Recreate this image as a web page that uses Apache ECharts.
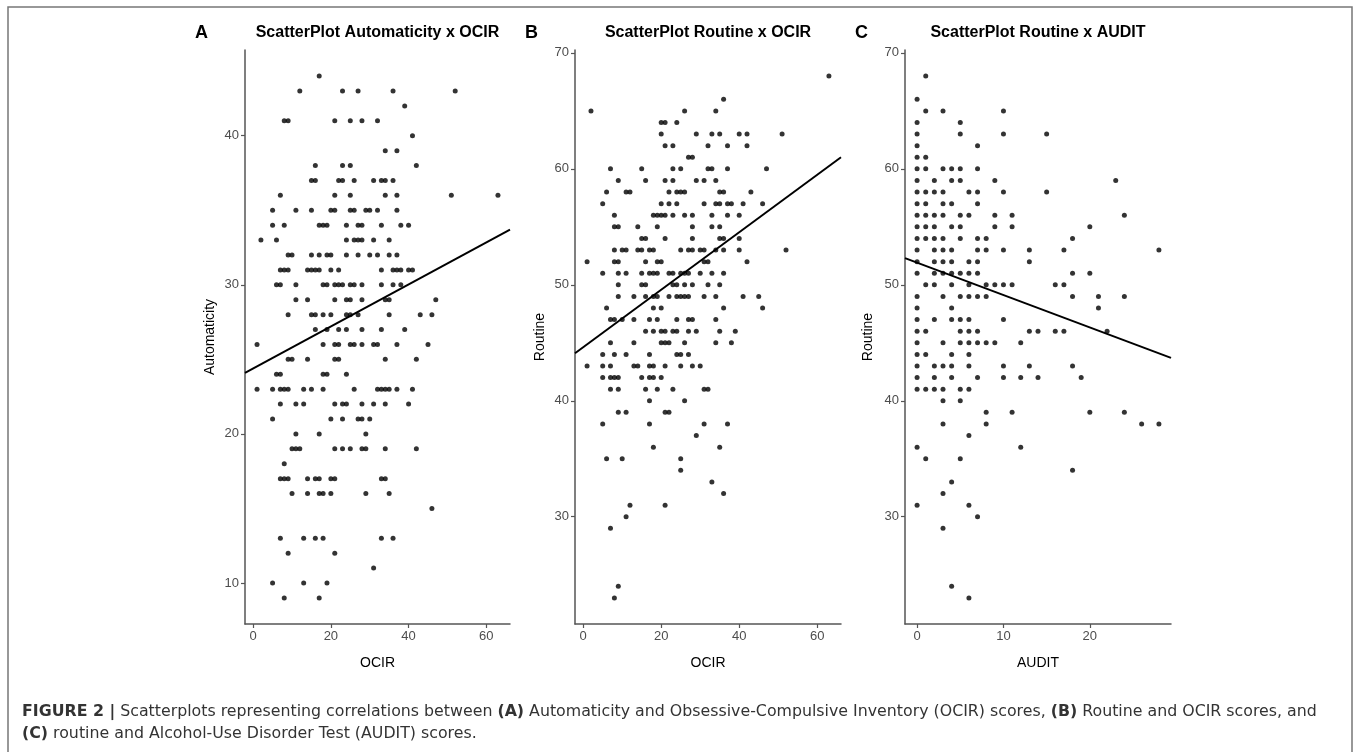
<!DOCTYPE html>
<html>
<head>
<meta charset="utf-8">
<script src="https://cdn.jsdelivr.net/npm/echarts@6/dist/echarts.min.js"></script>
<style>
html,body{margin:0;padding:0;background:#fff;}
#chart{width:1357px;height:752px;}
</style>
</head>
<body>
<div id="chart"></div>
<script>
// Panel A: Automaticity (y) vs OCIR (x); rows of [y, [x values]]
const rowsA = [
  [44,[17]],[43,[12,23,27,36,52]],[42,[39]],[41,[8,9,21,25,28,32]],[40,[41]],
  [39,[34,37]],[38,[16,23,25,42]],[37,[15,16,22,23,26,31,33,34,36]],
  [36,[7,21,25,34,37,51,63]],[35,[5,11,15,20,21,25,26,29,30,32,37]],
  [34,[5,8,17,18,19,24,27,28,33,38,40]],[33,[2,6,24,26,27,28,31,35]],
  [32,[9,10,15,17,19,20,24,27,30,32,35,37]],
  [31,[7,8,9,14,15,16,17,20,22,33,36,37,38,40,41]],
  [30,[6,7,11,18,19,21,22,23,25,26,28,33,36,38]],
  [29,[11,14,21,24,25,28,34,35,47]],[28,[9,15,16,18,20,24,25,27,35,43,46]],
  [27,[16,19,22,24,28,33,39]],[26,[1,18,21,22,25,26,28,31,32,37,45]],
  [25,[9,10,14,21,22,34,42]],[24,[6,7,18,19,24]],
  [23,[1,5,7,8,9,13,15,18,26,32,33,34,35,37,41]],
  [22,[7,11,13,21,23,24,28,31,34,40]],[21,[5,20,23,27,28,30]],[20,[11,17,29]],
  [19,[10,11,12,21,23,25,28,29,34,42]],[18,[8]],[17,[7,8,9,14,16,17,20,21,33,34]],
  [16,[10,14,17,18,20,29,35]],[15,[46]],[13,[7,13,16,18,33,36]],[12,[9,21]],
  [11,[31]],[10,[5,13,19]],[9,[8,17]]
];
// Panel B: Routine (y) vs OCIR (x)
const rowsB = [
  [68,[63]],[66,[36]],[65,[2,26,34]],[64,[20,21,24]],[63,[20,29,33,35,40,42,51]],
  [62,[21,23,32,37,42]],[61,[27,28]],[60,[7,15,23,25,32,33,37,47]],
  [59,[9,16,21,23,29,31,34]],[58,[6,11,12,22,24,25,26,35,36,43]],
  [57,[5,20,22,24,31,34,35,37,38,41,46]],[56,[8,18,19,20,21,23,26,28,33,37,40]],
  [55,[8,9,14,19,28,33,35]],[54,[15,16,21,28,35,36,40]],
  [53,[8,10,11,14,15,17,18,25,27,28,30,31,34,36,40,52]],
  [52,[1,8,9,16,19,20,31,32,42]],[51,[5,9,11,15,17,18,19,22,23,25,26,27,30,33,36]],
  [50,[9,15,16,23,24,26,28,32,35]],[49,[9,13,16,18,19,22,24,25,26,27,31,34,41,45]],
  [48,[6,18,20,36,46]],[47,[7,8,10,13,17,19,24,27,28,34]],
  [46,[16,18,20,21,23,24,27,29,35,39]],[45,[7,13,20,21,22,26,34,38]],
  [44,[5,8,11,17,24,25,27]],[43,[1,5,7,13,14,17,18,21,25,28,30]],
  [42,[5,7,8,9,15,17,18,20]],[41,[7,9,16,19,23,31,32]],[40,[17,26]],
  [39,[9,11,21,22]],[38,[5,17,31,37]],[37,[29]],[36,[18,35]],[35,[6,10,25]],
  [34,[25]],[33,[33]],[32,[36]],[31,[12,21]],[30,[11]],[29,[7]],[24,[9]],[23,[8]]
];
// Panel C: Routine (y) vs AUDIT (x)
const rowsC = [
  [68,[1]],[66,[0]],[65,[1,3,10]],[64,[0,5]],[63,[0,5,10,15]],[62,[0,7]],[61,[0,1]],
  [60,[0,1,3,4,5,7]],[59,[0,2,4,5,9,23]],[58,[0,1,2,3,6,7,10,15]],[57,[0,1,3,4,7]],
  [56,[0,1,2,3,5,6,9,11,24]],[55,[0,1,2,4,5,9,11,20]],[54,[0,1,2,3,5,7,8,18]],
  [53,[0,2,3,4,7,8,10,13,17,28]],[52,[0,2,3,4,6,7,13]],[51,[0,2,3,4,5,6,7,18,20]],
  [50,[1,2,4,6,8,9,10,11,16,17]],[49,[0,3,5,6,7,8,18,21,24]],[48,[0,4,21]],
  [47,[0,2,4,5,6,10]],[46,[0,1,5,6,7,13,14,16,17,22]],[45,[0,3,5,6,7,8,9,12]],
  [44,[0,1,4,6]],[43,[0,2,3,4,6,10,13,18]],[42,[0,2,4,7,10,12,14,19]],
  [41,[0,1,2,3,5,6]],[40,[3,5]],[39,[8,11,20,24]],[38,[3,8,26,28]],[37,[6]],
  [36,[0,12]],[35,[1,5]],[34,[18]],[33,[4]],[32,[3]],[31,[0,6]],[30,[7]],[29,[3]],
  [24,[4]],[23,[6]]
];
// Fitted regression line end points
const lineA = [[-2.1, 24.1], [66.1, 33.7]];
const lineB = [[-2.1, 44.1], [66.1, 61.0]];
const lineC = [[-1.4, 52.3], [29.4, 43.7]];
// Tick values
const ticksXA = [0, 20, 40, 60];
const ticksYA = [10, 20, 30, 40];
const ticksXB = [0, 20, 40, 60];
const ticksYB = [30, 40, 50, 60, 70];
const ticksXC = [0, 10, 20];
const ticksYC = [30, 40, 50, 60, 70];
const titles = ['ScatterPlot Automaticity x OCIR', 'ScatterPlot Routine x OCIR', 'ScatterPlot Routine x AUDIT'];
const panelLetters = ['A', 'B', 'C'];
const xNames = ['OCIR', 'OCIR', 'AUDIT'];
const yNames = ['Automaticity', 'Routine', 'Routine'];

function toPoints(rows) {
  const out = [];
  rows.forEach(([y, xs]) => xs.forEach(x => out.push([x, y])));
  return out;
}

const FONT = '"Liberation Sans", Arial, sans-serif';
const CAPFONT = '"DejaVu Sans", sans-serif';
const AX = '#555';
const grids = [
  {left: 245, top: 50, width: 265, height: 574},
  {left: 575, top: 50, width: 266, height: 574},
  {left: 905, top: 50, width: 266, height: 574}
];
const ranges = [
  {xmin: -2.1, xmax: 66.1, ymin: 7.25, ymax: 45.75, tx: ticksXA, ty: ticksYA},
  {xmin: -2.1, xmax: 66.1, ymin: 20.75, ymax: 70.25, tx: ticksXB, ty: ticksYB},
  {xmin: -1.4, xmax: 29.4, ymin: 20.75, ymax: 70.25, tx: ticksXC, ty: ticksYC}
];
const pts = [toPoints(rowsA), toPoints(rowsB), toPoints(rowsC)];
const lines = [lineA, lineB, lineC];

const xAxes = [], yAxes = [], series = [], graphics = [];
ranges.forEach((r, i) => {
  xAxes.push({
    type: 'value', gridIndex: i, min: r.xmin, max: r.xmax,
    splitLine: {show: false},
    axisLine: {show: true, onZero: false, lineStyle: {color: AX, width: 1.5}},
    axisTick: {show: true, length: 4, customValues: r.tx, lineStyle: {color: AX, width: 1.2}},
    axisLabel: {customValues: r.tx, color: '#4d4d4d', fontSize: 13, fontFamily: FONT, margin: 6},
    name: xNames[i], nameLocation: 'middle', nameGap: 32,
    nameTextStyle: {fontSize: 14, color: '#000', fontFamily: FONT}
  });
  yAxes.push({
    type: 'value', gridIndex: i, min: r.ymin, max: r.ymax,
    splitLine: {show: false},
    axisLine: {show: true, onZero: false, lineStyle: {color: AX, width: 1.5}},
    axisTick: {show: true, length: 4, customValues: r.ty, lineStyle: {color: AX, width: 1.2}},
    axisLabel: {customValues: r.ty, color: '#4d4d4d', fontSize: 13, fontFamily: FONT, margin: 6},
    name: yNames[i], nameLocation: 'middle', nameGap: i === 2 ? 30 : 28,
    nameTextStyle: {fontSize: 14, color: '#000', fontFamily: FONT}
  });
  series.push({
    type: 'scatter', xAxisIndex: i, yAxisIndex: i, data: pts[i],
    symbolSize: 5, itemStyle: {color: '#000'}, silent: true
  });
  series.push({
    type: 'line', xAxisIndex: i, yAxisIndex: i, data: lines[i],
    symbol: 'none', lineStyle: {color: '#000', width: 2}, silent: true, z: 3
  });
  const g = grids[i];
  graphics.push({
    type: 'text', x: g.left + g.width / 2, y: 33,
    style: {text: titles[i], font: 'bold 16px ' + FONT, fill: '#000', textAlign: 'center', textVerticalAlign: 'middle'}
  });
  graphics.push({
    type: 'text', x: g.left - 37, y: 33,
    style: {text: panelLetters[i], font: 'bold 18px ' + FONT, fill: '#000', textAlign: 'right', textVerticalAlign: 'middle'}
  });
});

graphics.push({
  type: 'rect', shape: {x: 8, y: 7, width: 1344, height: 780},
  style: {fill: 'none', stroke: '#777', lineWidth: 1.5}, silent: true
});
const richCap = {
  b: {fontWeight: 'bold', fontSize: 15.8, fontFamily: CAPFONT, color: '#333'},
  n: {fontSize: 15.8, fontFamily: CAPFONT, color: '#333'}
};
graphics.push({
  type: 'text', x: 22, y: 712,
  style: {
    text: '{b|FIGURE 2 |}{n| Scatterplots representing correlations between }{b|(A)}{n| Automaticity and Obsessive-Compulsive Inventory (OCIR) scores, }{b|(B)}{n| Routine and OCIR scores, and}',
    rich: richCap, textVerticalAlign: 'middle', fill: '#333'
  }
});
graphics.push({
  type: 'text', x: 22, y: 734,
  style: {
    text: '{b|(C)}{n| routine and Alcohol-Use Disorder Test (AUDIT) scores.}',
    rich: richCap, textVerticalAlign: 'middle', fill: '#333'
  }
});

const chart = echarts.init(document.getElementById('chart'), null, {renderer: 'canvas'});
chart.setOption({
  backgroundColor: '#fff',
  animation: false,
  grid: grids,
  xAxis: xAxes,
  yAxis: yAxes,
  series: series,
  graphic: graphics
});
</script>
</body>
</html>
